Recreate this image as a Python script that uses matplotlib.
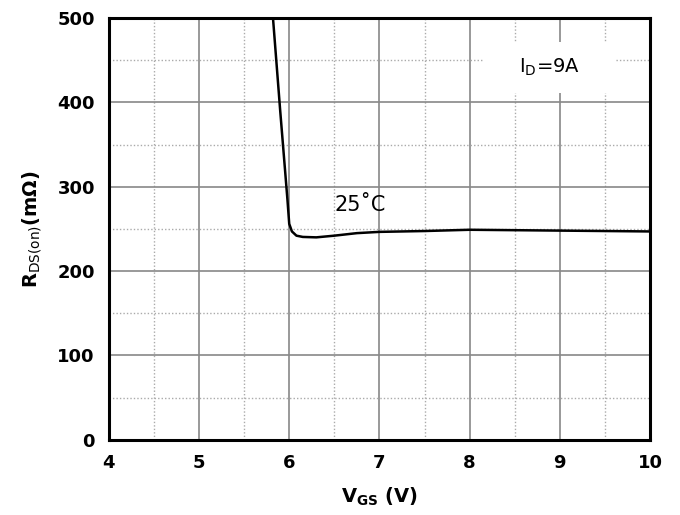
import numpy as np
import matplotlib.pyplot as plt
from matplotlib.patches import Rectangle

# RDS(on) vs VGS at ID = 9A, 25C
vgs = [5.82, 5.90, 5.98, 6.00, 6.03, 6.08, 6.15, 6.30, 6.50, 6.75, 7.00, 7.50, 8.00, 8.50, 9.00, 9.50, 10.00]
rds = [500, 390, 285, 256, 247, 242, 240.5, 240, 242, 245, 246.5, 247.5, 249, 248.5, 248, 247.5, 247]

x_ticks = [4, 5, 6, 7, 8, 9, 10]
y_ticks = [0, 100, 200, 300, 400, 500]

fig = plt.figure(figsize=(6.8, 5.15), dpi=100)
ax = fig.add_axes([0.160, 0.146, 0.796, 0.819])

ax.plot(vgs, rds, color='black', linewidth=1.8, zorder=3)

ax.set_xlim(4, 10)
ax.set_ylim(0, 500)
ax.set_xticks(x_ticks)
ax.set_yticks(y_ticks)
ax.set_xticks(np.arange(4.5, 10, 1.0), minor=True)
ax.set_yticks(np.arange(50, 500, 100), minor=True)

ax.grid(which='major', color='#888888', linewidth=1.2, linestyle='-')
ax.grid(which='minor', color='#aaaaaa', linewidth=1.0, linestyle=(0, (1, 1.5)))
ax.tick_params(which='both', length=0)
ax.tick_params(axis='both', labelsize=13, pad=10)
for lbl in ax.get_xticklabels() + ax.get_yticklabels():
    lbl.set_fontweight('bold')

for side in ['left', 'bottom', 'top', 'right']:
    ax.spines[side].set_linewidth(2.2)

ax.set_xlabel(r'$\mathbf{V_{GS}}$ (V)', fontsize=14, fontweight='bold', labelpad=10)
ax.set_ylabel(r'$\mathbf{R}_{\mathrm{DS(on)}}$(mΩ)', fontsize=14, fontweight='bold', labelpad=10)

ax.text(6.79, 278, '25˚C', fontsize=15, ha='center', va='center')

# white panel behind the current label
ax.add_patch(Rectangle((8.15, 411), 1.46, 61, facecolor='white', edgecolor='none', zorder=2.5))
ax.text(8.88, 441, r'I$_\mathrm{D}$=9A', fontsize=14, ha='center', va='center', zorder=4)

fig.savefig('out.png', dpi=100)
